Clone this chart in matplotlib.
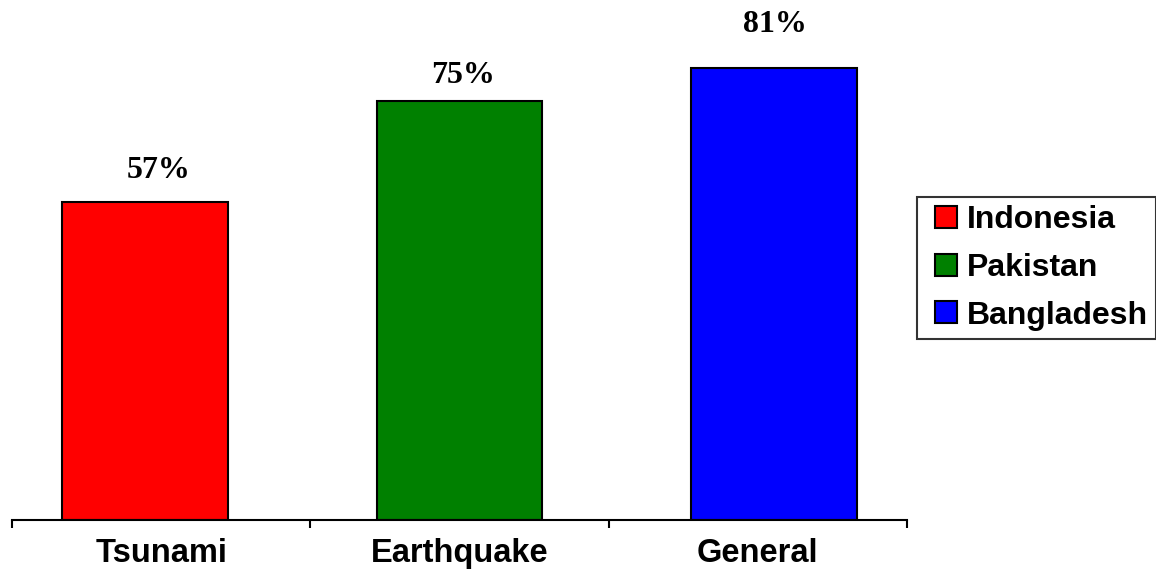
import matplotlib
matplotlib.use("Agg")
import matplotlib.pyplot as plt
from matplotlib.lines import Line2D

categories = ["Tsunami", "Earthquake", "General"]
countries = ["Indonesia", "Pakistan", "Bangladesh"]
values = [57, 75, 81]
colors = ["#FF0000", "#008000", "#0000FF"]

# label placement tweaks (relative to bar top / bar centre)
label_dx = [0.047, 0.013, 0.004]
label_dy = [4.2, 3.3, 6.3]

fig = plt.figure(figsize=(11.56, 5.70), dpi=100)
ax = fig.add_axes([12/1156, 50/570, 895/1156, 502.65/570])

width = 0.556
step = 0.054
for i, (v, c, name) in enumerate(zip(values, colors, countries)):
    x = i + 0.5 + (i - 1) * step
    ax.bar(x, v, width=width, color=c, edgecolor="black", linewidth=1.5, label=name)
    ax.text(x + label_dx[i], v + label_dy[i], "%d%%" % v, ha="center", va="baseline",
            fontsize=23, fontweight="bold", family="Liberation Serif")

ax.set_xlim(0, 3)
ax.set_ylim(0, 90)
for s in ["top", "right", "left"]:
    ax.spines[s].set_visible(False)
ax.spines["bottom"].set_linewidth(1.5)
ax.set_yticks([])
ax.set_xticks([0, 1, 2, 3])
ax.set_xticklabels([])
ax.tick_params(axis="x", which="major", direction="out", length=6, width=1.5)
ax.set_xticks([0.5, 1.5, 2.5], minor=True)
ax.set_xticklabels(categories, minor=True, fontsize=23.5, fontweight="bold", family="Liberation Sans")
ax.tick_params(axis="x", which="minor", length=0, pad=13)

handles = [Line2D([], [], linestyle="none", marker="s", markersize=15.8, markerfacecolor=c,
                  markeredgecolor="black", markeredgewidth=1.5) for c in colors]
leg = fig.legend(handles, countries, loc="center left", bbox_to_anchor=(917/1156, 302/570),
                 prop={"family": "Liberation Sans", "weight": "bold", "size": 23},
                 handlelength=1.3, handletextpad=0.0,
                 labelspacing=0.55, borderpad=0.25, borderaxespad=0,
                 frameon=True, fancybox=False, edgecolor="black")
leg.get_frame().set_linewidth(1.5)

fig.savefig("out.png", dpi=100)
